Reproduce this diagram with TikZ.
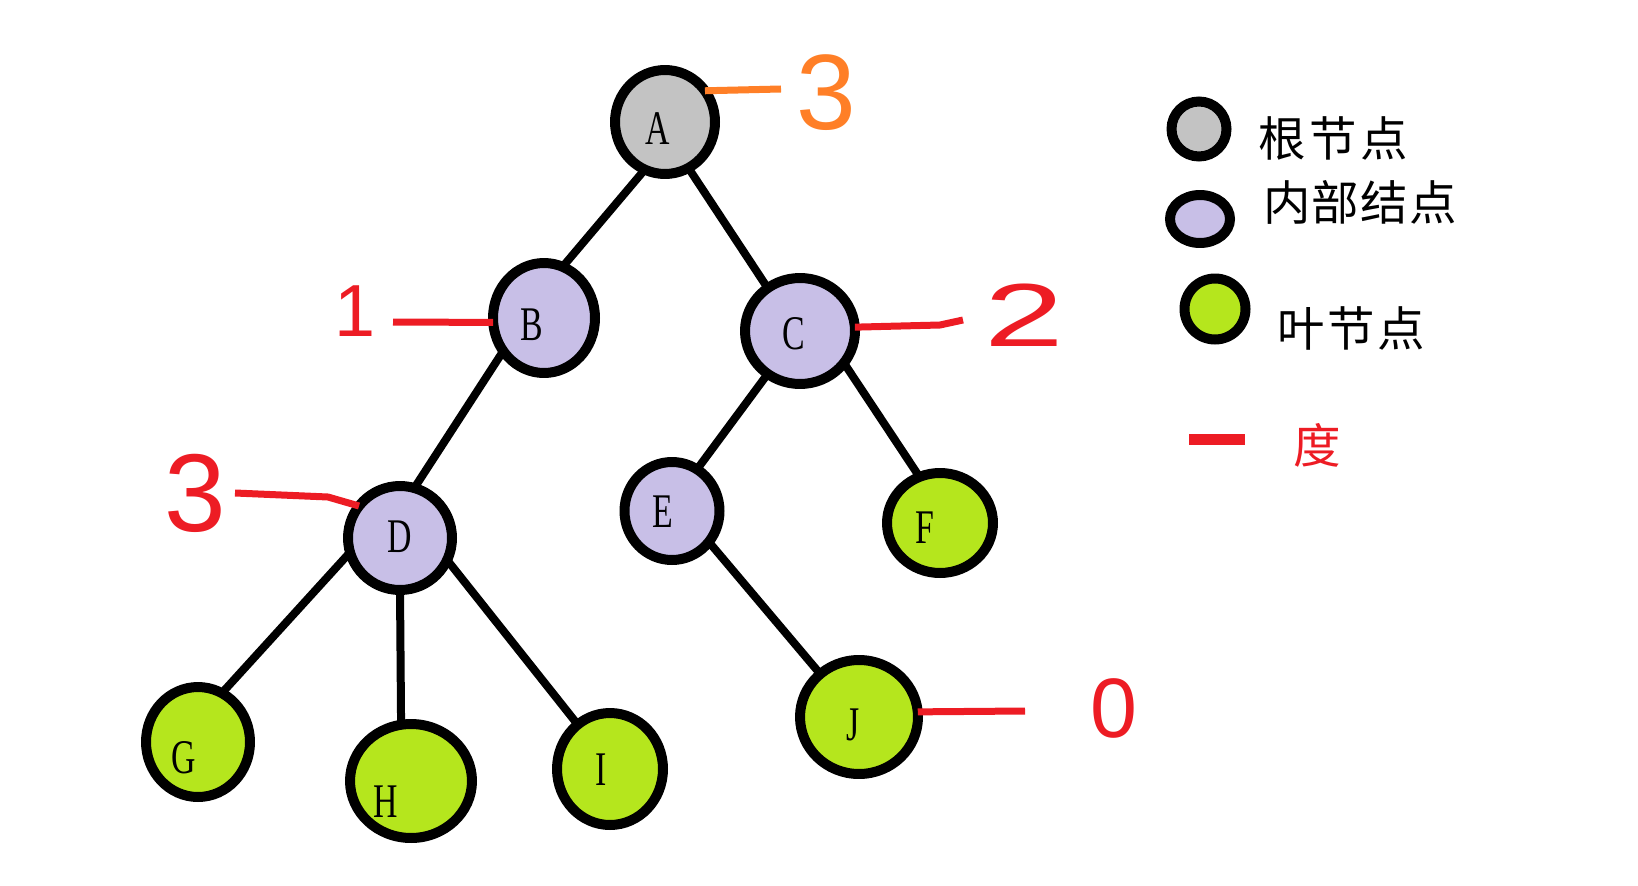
\documentclass[tikz,border=0pt]{standalone}
\usepackage{fontspec}
\usepackage{graphicx}
\setmainfont{Liberation Serif}
\newfontfamily\cjk{Noto Sans CJK SC}
\newfontfamily\digitfont{Liberation Sans}
\usetikzlibrary{shapes.geometric}
\definecolor{rootgray}{RGB}{195,195,195}
\definecolor{innerlav}{RGB}{200,191,231}
\definecolor{leafgreen}{RGB}{181,230,29}
\definecolor{degred}{RGB}{237,28,36}
\definecolor{degorange}{RGB}{255,127,39}
\newcommand\nodeletter[1]{\scalebox{0.7}[1]{#1}}
\begin{document}
\begin{tikzpicture}[x=0.02cm,y=-0.02cm,
  treenode/.style={ellipse,draw=black,line width=0.2cm,inner sep=0pt,outer sep=0pt},
  rootnode/.style={treenode,fill=rootgray},
  innernode/.style={treenode,fill=innerlav},
  leafnode/.style={treenode,fill=leafgreen},
  letter/.style={inner sep=0pt,font=\fontsize{27.5}{30}\selectfont},
  edge/.style={line width=0.16cm,black},
  degline/.style={line width=0.14cm,degred},
  degorangeline/.style={line width=0.14cm,degorange},
  digit/.style={inner sep=0pt,text=degred},
  cjklabel/.style={inner sep=0pt,font=\cjk\fontsize{27}{30}\selectfont},
]
\useasboundingbox (0,0) rectangle (1638,885);

% tree nodes
\node[rootnode,  minimum width=2.0cm,  minimum height=2.08cm] (A) at (665,122) {};
\node[innernode, minimum width=2.04cm, minimum height=2.2cm]  (B) at (544,318) {};
\node[innernode, minimum width=2.2cm,  minimum height=2.12cm] (C) at (800,331) {};
\node[innernode, minimum width=2.08cm, minimum height=2.08cm] (D) at (400,538) {};
\node[innernode, minimum width=1.9cm,  minimum height=1.96cm] (E) at (672,511) {};
\node[leafnode,  minimum width=2.12cm, minimum height=2.0cm]  (F) at (940,523) {};
\node[leafnode,  minimum width=2.08cm, minimum height=2.2cm]  (G) at (198,742) {};
\node[leafnode,  minimum width=2.44cm, minimum height=2.28cm] (H) at (411,781) {};
\node[leafnode,  minimum width=2.12cm, minimum height=2.24cm] (I) at (610,769) {};
\node[leafnode,  minimum width=2.36cm, minimum height=2.28cm] (J) at (859,717) {};

% edges
\draw[edge] (A.247) -- (B.70);
\draw[edge] (A.297) -- (C.127);
\draw[edge] (B.219) -- (D.74);
\draw[edge] (C.233) -- (E.59);
\draw[edge] (C.324) -- (F.114);
\draw[edge] (D.196) -- (G.64);
\draw[edge] (D.270) -- (H.100);
\draw[edge] (D.335) -- (I.126);
\draw[edge] (E.320) -- (J.132);

% letters
\node[letter] (tA) at (658,129) {\nodeletter{A}};
\node[letter] (tB) at (532,325) {\nodeletter{B}};
\node[letter] (tC) at (794,334) {\nodeletter{C}};
\node[letter] (tD) at (400,537) {\nodeletter{D}};
\node[letter] (tE) at (663,512) {\nodeletter{E}};
\node[letter] (tF) at (925,528) {\nodeletter{F}};
\node[letter] (tG) at (184,758) {\nodeletter{G}};
\node[letter] (tH) at (386,802) {\nodeletter{H}};
\node[letter] (tI) at (601,770) {\nodeletter{I}};
\node[letter] (tJ) at (853,725) {\nodeletter{J}};

% degree annotations
\coordinate (aEnd) at (781,89);
\draw[degorangeline] (A.38) -- (aEnd);
\node[digit,text=degorange,font=\digitfont\fontsize{61}{61}\selectfont] (degA) at (826,93) {3};

\coordinate (bEnd) at (393,322);
\draw[degline] (B.185) -- (bEnd);
\node[digit,font=\digitfont\fontsize{42}{42}\selectfont] (degB) at (355,311) {1};

\coordinate (cMid) at (940,325);
\coordinate (cEnd) at (963,320);
\draw[degline] (C.4) -- (cMid) -- (cEnd);
\node[digit,font=\digitfont\fontsize{51}{51}\selectfont] (degC) at (1024,315) {\scalebox{1.6}[1]{2}};

\coordinate (dMid) at (328,497);
\coordinate (dEnd) at (235,493);
\draw[degline] (D.142) -- (dMid) -- (dEnd);
\node[digit,font=\digitfont\fontsize{63}{63}\selectfont] (degD) at (195,493) {3};

\coordinate (jEnd) at (1025,711);
\draw[degline] (J.5) -- (jEnd);
\node[digit,font=\digitfont\fontsize{48}{48}\selectfont] (degJ) at (1114,708) {0};

% legend
\node[rootnode,  minimum width=1.1cm,  minimum height=1.1cm]  (lgRoot)  at (1199,129) {};
\node[innernode, minimum width=1.2cm,  minimum height=0.96cm] (lgInner) at (1200,219) {};
\node[leafnode,  minimum width=1.22cm, minimum height=1.22cm] (lgLeaf)  at (1215,309) {};
\coordinate (lgDegA) at (1189,439);
\coordinate (lgDegB) at (1245,439);
\draw[line width=0.22cm,degred] (lgDegA) -- (lgDegB);

\node[cjklabel] (lgRootText)  at (1333,138) {根\kern1.9pt 节\kern1.9pt 点};
\node[cjklabel] (lgInnerText) at (1360,202) {内\kern0.8pt 部\kern0.8pt 结\kern0.8pt 点};
\node[cjklabel] (lgLeafText)  at (1351,328) {叶\kern1.6pt 节\kern1.6pt 点};
\node[cjklabel,text=degred] (lgDegText) at (1317,445) {度};
\end{tikzpicture}
\end{document}
